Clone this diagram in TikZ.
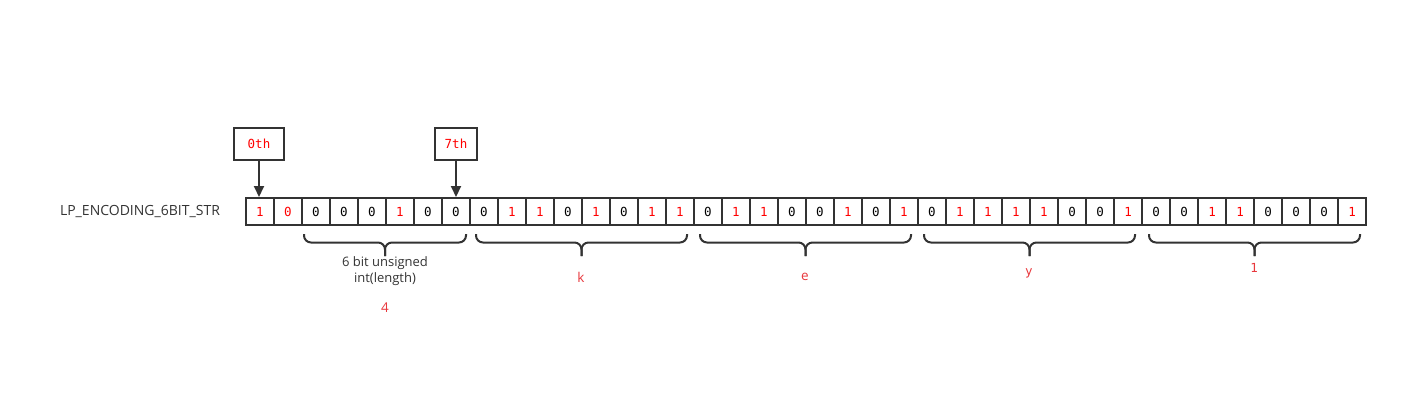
\documentclass[tikz,border=0pt]{standalone}
\usepackage{fontspec}
\setmainfont{Open Sans}
\newfontfamily\monof{DejaVu Sans Mono}
\usetikzlibrary{arrows.meta}
\definecolor{ink}{HTML}{333333}
\definecolor{bitred}{HTML}{FF0000}
\definecolor{lblred}{HTML}{E8383D}
\tikzset{
  cell/.style={draw=ink, line width=2pt, minimum width=28pt, minimum height=27pt, inner sep=0pt, font=\monof\fontsize{12.5}{14}\selectfont},
  rb/.style={cell, text=bitred},
  kb/.style={cell, text=black},
  tagbox/.style={draw=ink, line width=2pt, inner sep=0pt, minimum height=32pt, text=bitred, font=\monof\fontsize{12.5}{14}\selectfont},
  ptr/.style={draw=ink, line width=2pt, -{Triangle[length=11pt,width=10pt]}},
  br/.style={draw=ink, line width=2pt, rounded corners=7pt},
  lbl/.style={font=\fontsize{14}{16}\selectfont, text=ink, align=center},
  rlbl/.style={font=\fontsize{13.5}{16}\selectfont, text=lblred},
}
\newcommand{\mybrace}[3]{%
  \draw[br] (#1,234) -- (#1,242.5) -- ({(#1+#2)/2},242.5) -- ({(#1+#2)/2},256);
  \draw[br] (#2,234) -- (#2,242.5) -- ({(#1+#2)/2},242.5) -- ({(#1+#2)/2},256);
  \coordinate (#3) at ({(#1+#2)/2},256);
}
\begin{document}
\begin{tikzpicture}[x=1pt,y=-1pt]
\useasboundingbox (0,0) rectangle (1427,400);
\node[lbl] (name) at (140,211) {LP\_ENCODING\_6BIT\_STR};
\foreach \b [count=\i from 0] in {1,0,0,0,0,1,0,0, 0,1,1,0,1,0,1,1, 0,1,1,0,0,1,0,1, 0,1,1,1,1,0,0,1, 0,0,1,1,0,0,0,1}{
  \ifnum\b=1
    \node[rb] (c\i) at ({260+28*\i},211.5) {1};
  \else
    \ifnum\i=1
      \node[rb] (c\i) at ({260+28*\i},211.5) {0};
    \else
      \node[kb] (c\i) at ({260+28*\i},211.5) {0};
    \fi
  \fi
}
\node[tagbox, minimum width=50pt] (t0) at (259,144) {0th};
\node[tagbox, minimum width=42pt] (t7) at (456,144) {7th};
\draw[ptr] (t0.south) -- (t0.south |- c0.north);
\draw[ptr] (t7.south) -- (t7.south |- c7.north);
\mybrace{304}{466}{b1}
\mybrace{476}{687}{b2}
\mybrace{700}{911}{b3}
\mybrace{924}{1135}{b4}
\mybrace{1149}{1360}{b5}
\node[lbl, anchor=north, inner sep=0pt, font=\fontsize{13}{16}\selectfont] (l1) at ([yshift=-0.5pt]b1) {6 bit unsigned\\int(length)};
\node[rlbl] (v1) at (385,308) {4};
\node[rlbl] (l2) at (581,277) {k};
\node[rlbl] (l3) at (805,277) {e};
\node[rlbl, font=\monof\fontsize{12.5}{14}\selectfont] (l4) at (1029,273) {y};
\node[rlbl, font=\monof\fontsize{12.5}{14}\selectfont] (l5) at (1254,268) {1};
\end{tikzpicture}
\end{document}
